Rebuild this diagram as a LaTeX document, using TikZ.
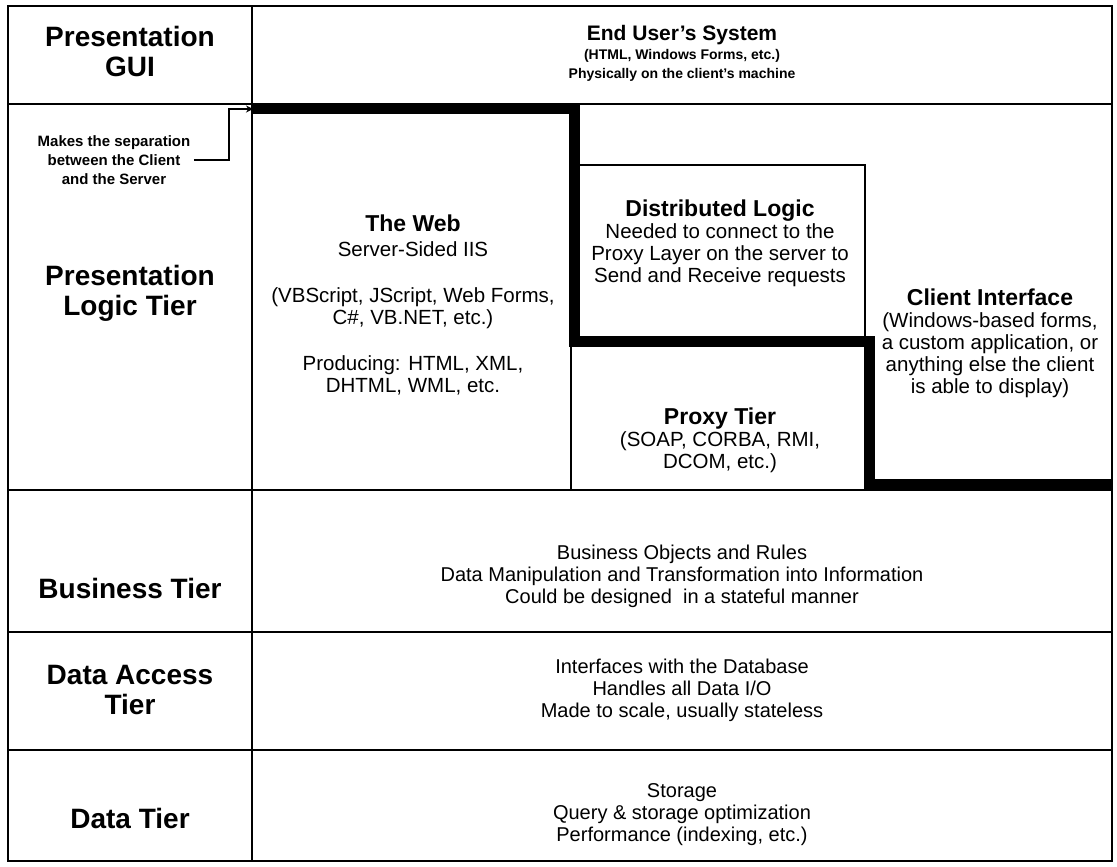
\documentclass[tikz,border=0pt]{standalone}
\usepackage{fontspec}
\setmainfont{Liberation Sans}
\usetikzlibrary{arrows.meta}
\begin{document}
\begin{tikzpicture}[x=1pt,y=-1pt,
  rule/.style={line width=1.6pt},
  boundary/.style={line width=11pt},
  tierlbl/.style={align=center,font=\bfseries\fontsize{28}{30}\selectfont},
  body/.style={align=center,font=\fontsize{20.5}{22}\selectfont},
  lower/.style={align=center,font=\fontsize{20}{22}\selectfont},
  small/.style={align=center,font=\bfseries\fontsize{14}{19}\selectfont},
  note/.style={align=center,font=\bfseries\fontsize{15}{19}\selectfont},
  pointer/.style={line width=1.6pt,-{Stealth[length=7pt,width=7pt]}}
]
\newcommand{\ttl}{\bfseries\fontsize{23}{24}\selectfont}
\useasboundingbox (0,0) rectangle (1117,867);
\fill[white] (0,0) rectangle (1117,867);

% table frame, tier rows and label column
\draw[rule] (8,6) rectangle (1112,861);
\draw[rule] (252,6) -- (252,861);
\draw[rule] (8,104) -- (1112,104);
\draw[rule] (8,490) -- (1112,490);
\draw[rule] (8,632) -- (1112,632);
\draw[rule] (8,750) -- (1112,750);

% inner boxes of the presentation logic tier
\draw[rule] (574,165) -- (865,165) -- (865,341);
\draw[rule] (571,341) -- (571,490);

% client/server separation line
\draw[boundary] (252,108.5) -- (574,108.5) -- (574,341) -- (869,341) -- (869,484.5) -- (1112,484.5);
\coordinate (sepstart) at (253,109);
\coordinate (elbow) at (229,109);

% tier labels
\node[tierlbl] (gui) at (130,51) {Presentation\\GUI};
\node[tierlbl] (logic) at (130,293) {Presentation\\Logic Tier};
\node[tierlbl] (business) at (130,588) {Business Tier};
\node[tierlbl] (access) at (130,690) {Data Access\\Tier};
\node[tierlbl] (data) at (130,818) {Data Tier};

% end user's system
\node[small] (enduser) at (682,53) {{\bfseries\fontsize{21}{24}\selectfont End User's System}\\(HTML, Windows Forms, etc.)\\Physically on the client's machine};

% separation note and its pointer
\node[note] (sepnote) at (114,160) {Makes the separation\\between the Client\\and the Server};
\draw[pointer] (sepnote.east) -| (elbow) -- (sepstart);

% presentation logic boxes
\node[body] (web) at (413,305) {{\ttl The Web}\\[3pt]Server-Sided IIS\\[24pt](VBScript, JScript, Web Forms,\\C\#, VB.NET, etc.)\\[24pt]Producing: HTML, XML,\\DHTML, WML, etc.};
\node[body] (dist) at (720,243) {{\ttl Distributed Logic}\\Needed to connect to the\\Proxy Layer on the server to\\Send and Receive requests};
\node[body] (proxy) at (720,440) {{\ttl Proxy Tier}\\(SOAP, CORBA, RMI,\\DCOM, etc.)};
\node[body] (client) at (990,343) {{\ttl Client Interface}\\(Windows-based forms,\\a custom application, or\\anything else the client\\is able to display)};

% lower tiers
\node[lower] (businesstxt) at (682,576) {Business Objects and Rules\\Data Manipulation and Transformation into Information\\Could be designed\ \ in a stateful manner};
\node[lower] (accesstxt) at (682,690) {Interfaces with the Database\\Handles all Data I/O\\Made to scale, usually stateless};
\node[lower] (datatxt) at (682,815) {Storage\\Query \& storage optimization\\Performance (indexing, etc.)};
\end{tikzpicture}
\end{document}
